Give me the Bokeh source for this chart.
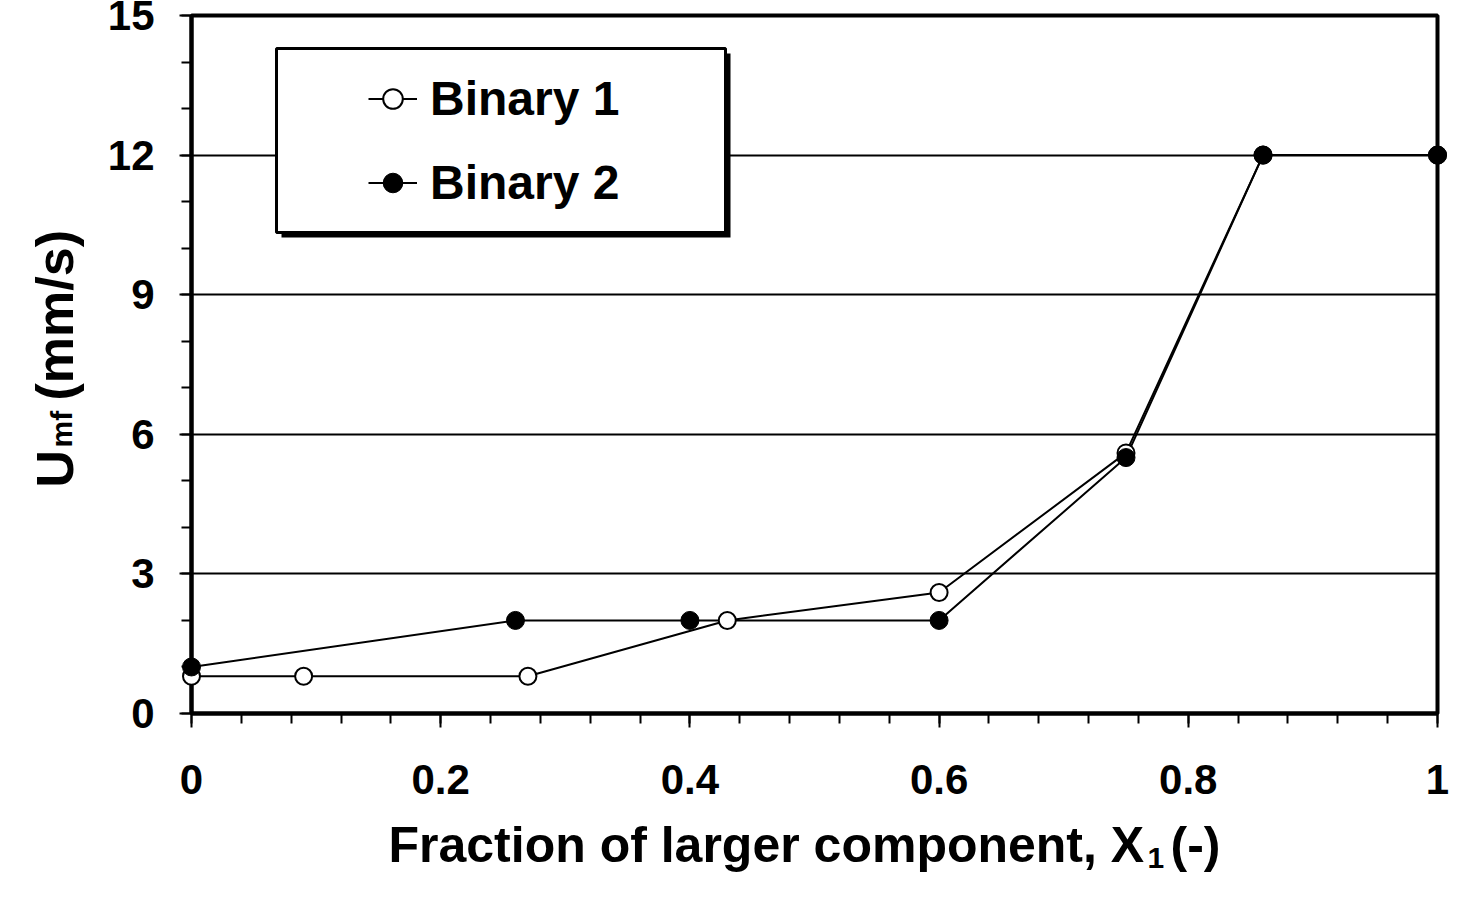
import math

from bokeh.plotting import figure
from bokeh.core.properties import value
from bokeh.models import (Range1d, SingleIntervalTicker, NumeralTickFormatter,
                          Legend, LegendItem, BoxAnnotation)
from bokeh.embed import file_html
from bokeh.resources import INLINE

# Data
x_bin1 = [0.0, 0.09, 0.27, 0.43, 0.60, 0.75, 0.86, 1.0]
u_bin1 = [0.8, 0.8, 0.8, 2.0, 2.6, 5.6, 12.0, 12.0]

x_bin2 = [0.0, 0.26, 0.40, 0.60, 0.75, 0.86, 1.0]
u_bin2 = [1.0, 2.0, 2.0, 2.0, 5.5, 12.0, 12.0]

series_names = ["Binary 1", "Binary 2"]

FONT = "Liberation Sans"

p = figure(width=1466, height=881, output_backend="svg", toolbar_location=None,
           x_range=Range1d(0, 1), y_range=Range1d(0, 15),
           min_border_left=191, min_border_right=29,
           min_border_top=15, min_border_bottom=168)

p.background_fill_color = "white"
p.border_fill_color = "white"
p.outline_line_color = "black"
p.outline_line_width = 4

p.xgrid.grid_line_color = None
p.ygrid.grid_line_color = "black"
p.ygrid.grid_line_width = 2

p.xaxis.ticker = SingleIntervalTicker(interval=0.2, num_minor_ticks=5)
p.yaxis.ticker = SingleIntervalTicker(interval=3, num_minor_ticks=3)
p.xaxis.formatter = NumeralTickFormatter(format="0.[0]")
p.yaxis.formatter = NumeralTickFormatter(format="0")

for ax in (p.xaxis, p.yaxis):
    ax.axis_line_width = 4
    ax.axis_line_color = "black"
    ax.major_tick_line_width = 2
    ax.minor_tick_line_width = 2
    ax.major_tick_in = 0
    ax.minor_tick_in = 0
    ax.major_label_text_font = FONT
    ax.major_label_text_font_style = "bold"
    ax.major_label_text_font_size = "42px"
    ax.major_label_text_color = "black"

p.xaxis.major_tick_out = 14
p.xaxis.minor_tick_out = 10
p.xaxis.major_label_standoff = 37
p.yaxis.major_tick_out = 12
p.yaxis.minor_tick_out = 10
p.yaxis.major_label_standoff = 25

# series (overlay level so the end markers are not cut by the frame)
l1 = p.line(x_bin1, u_bin1, line_color="black", line_width=2)
s1 = p.scatter(x_bin1, u_bin1, marker="circle", size=17, fill_color="white",
               line_color="black", line_width=2, level="overlay")
l2 = p.line(x_bin2, u_bin2, line_color="black", line_width=2)
s2 = p.scatter(x_bin2, u_bin2, marker="circle", size=18, fill_color="black",
               line_color="black", line_width=1, level="overlay")

# legend box with drop shadow
shadow = BoxAnnotation(left=90, right=539, top=660, bottom=476,
                       left_units="screen", right_units="screen",
                       top_units="screen", bottom_units="screen",
                       fill_color="black", fill_alpha=1, line_color=None)
box = BoxAnnotation(left=85, right=534, top=665, bottom=481,
                    left_units="screen", right_units="screen",
                    top_units="screen", bottom_units="screen",
                    fill_color="white", fill_alpha=1,
                    line_color="black", line_width=3, line_alpha=1)
p.add_layout(shadow)
p.add_layout(box)

legend = Legend(items=[LegendItem(label=series_names[0], renderers=[l1, s1]),
                       LegendItem(label=series_names[1], renderers=[l2, s2])],
                location=(177, 503), padding=0, margin=0,
                border_line_color=None, background_fill_alpha=0,
                label_text_font=FONT, label_text_font_style="bold",
                label_text_font_size="48px", label_text_color="black",
                label_standoff=13,
                label_height=55, glyph_height=55, glyph_width=49, spacing=29)
p.add_layout(legend)


# axis titles built from pieces (subscripts), anchored at the frame origin
def txt(dx, dy, s, size, angle=0.0):
    p.text(x=[0], y=[0], text=[s], x_offset=dx, y_offset=dy, angle=angle,
           text_font=value(FONT), text_font_style="bold",
           text_font_size=value(size), text_color="black",
           text_align="left", text_baseline="alphabetic", level="overlay")


txt(197, 131, "Fraction of larger component, X", "50px")
txt(956, 144, "1", "30px")
txt(979, 131, "(-)", "50px")

txt(-137, -226, "U", "52px", math.pi / 2)
txt(-130, -266, "mf", "30px", math.pi / 2)
txt(-137, -313, "(mm/s)", "52px", math.pi / 2)

open("out.html", "w").write(file_html(p, INLINE))
